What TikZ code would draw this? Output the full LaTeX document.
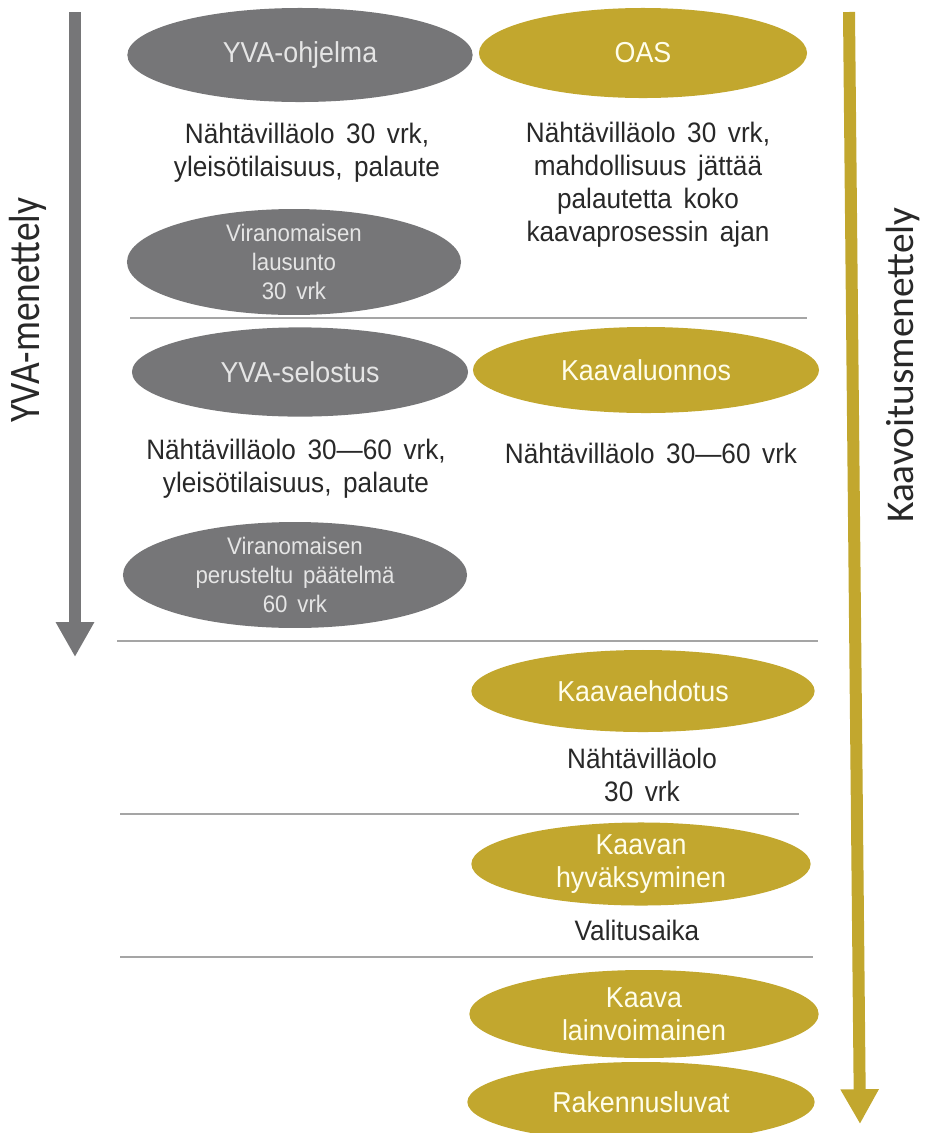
\documentclass[tikz,border=0pt]{standalone}
\usepackage{fontspec}
\setmainfont[FakeStretch=0.93,WordSpace=1.6]{Liberation Sans}
\newfontfamily\yvafont[FakeStretch=0.86]{Carlito}
\newfontfamily\kaavafont{Carlito}
\usetikzlibrary{arrows.meta,positioning,shapes.geometric}
\definecolor{yvagray}{RGB}{118,118,120}
\definecolor{kaavagold}{RGB}{194,167,46}
\definecolor{notetext}{RGB}{40,40,40}
\definecolor{sepline}{RGB}{165,165,165}

\begin{document}
\begin{tikzpicture}[x=0.025cm,y=-0.025cm,
  yvaell/.style={ellipse,fill=yvagray,inner sep=0pt,text=white!90!black,align=center,font=\fontsize{20.5}{23.4}\selectfont},
  kaavaell/.style={ellipse,fill=kaavagold,inner sep=0pt,text=white!92!yellow,align=center,font=\fontsize{20.5}{23.4}\selectfont},
  smallell/.style={font=\fontsize{17}{20.4}\selectfont},
  note/.style={text=notetext,align=center,inner sep=0pt,font=\fontsize{20}{23.4}\selectfont},
  sep/.style={draw=sepline,line width=0.85pt},
  procarrow/.style={line width=0.3cm,-{Triangle[width=0.9cm,length=0.87cm]}}]
\useasboundingbox (0,0) rectangle (929,1133);
% process arrows
\coordinate (yvatop) at (75,12);
\coordinate (yvaend) at (75,657);
\coordinate (kaavatop) at (849,12);
\coordinate (kaavaend) at (860,1124);
\draw[procarrow,yvagray] (yvatop) -- (yvaend);
\draw[procarrow,kaavagold] (kaavatop) -- (kaavaend);
\node[rotate=90,text=notetext,font=\yvafont\fontsize{31}{36}\selectfont] (yvalbl) at (28,310) {YVA-menettely};
\node[rotate=90,text=notetext,font=\kaavafont\fontsize{28}{32}\selectfont] (kaavalbl) at (903,365) {Kaavoitusmenettely};
% phase separators
\draw[sep] (130,318) -- (807,318);
\draw[sep] (117,641) -- (818,641);
\draw[sep] (120,814) -- (799,814);
\draw[sep] (120,957) -- (813,957);
% YVA column
\node[yvaell,minimum width=8.63cm,minimum height=2.35cm] (yvaohj) at (300,55) {YVA-ohjelma};
\node[note] (yvaohjtxt) at (307,153) {Nähtävilläolo 30 vrk,\\yleisötilaisuus, palaute};
\node[yvaell,smallell,minimum width=8.35cm,minimum height=2.28cm] (lausunto) at (294,262) {Viranomaisen\\lausunto\\30 vrk};
\node[yvaell,minimum width=8.40cm,minimum height=2.23cm] (yvasel) at (300,372) {YVA-selostus};
\node[note] (yvaseltxt) at (296,469) {Nähtävilläolo 30—60 vrk,\\yleisötilaisuus, palaute};
\node[yvaell,smallell,minimum width=8.60cm,minimum height=2.60cm] (paatelma) at (295,575) {Viranomaisen\\perusteltu päätelmä\\60 vrk};
% kaava column
\node[kaavaell,minimum width=8.20cm,minimum height=2.25cm] (oas) at (643,53) {OAS};
\node[note] (oastxt) at (648,185) {Nähtävilläolo 30 vrk,\\mahdollisuus jättää\\palautetta koko\\kaavaprosessin ajan};
\node[kaavaell,minimum width=8.65cm,minimum height=2.15cm] (luonnos) at (646,370) {Kaavaluonnos};
\node[note] (luonnostxt) at (651,453) {Nähtävilläolo 30—60 vrk};
\node[kaavaell,minimum width=8.58cm,minimum height=2.05cm] (ehdotus) at (643,691) {Kaavaehdotus};
\node[note] (ehdotustxt) at (642,775) {Nähtävilläolo\\30 vrk};
\node[kaavaell,minimum width=8.48cm,minimum height=1.95cm] (hyvaks) at (641,864) {Kaavan\\hyväksyminen};
\node[note] (valitus) at (637,930) {Valitusaika};
\node[kaavaell,minimum width=8.73cm,minimum height=2.20cm] (lainvoim) at (644,1014) {Kaava\\lainvoimainen};
\node[kaavaell,minimum width=8.68cm,minimum height=2.00cm] (rakennus) at (641,1102) {Rakennusluvat};
\end{tikzpicture}
\end{document}
